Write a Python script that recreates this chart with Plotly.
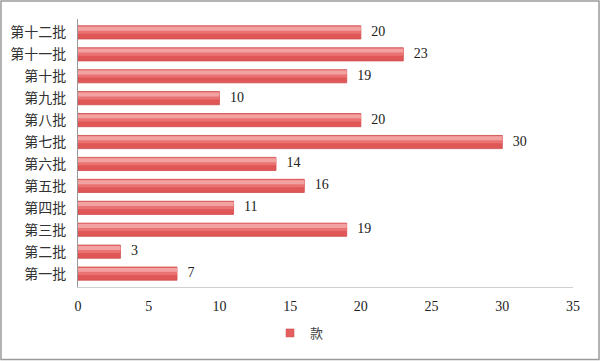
import plotly.graph_objects as go

categories = ["第一批", "第二批", "第三批", "第四批", "第五批", "第六批",
              "第七批", "第八批", "第九批", "第十批", "第十一批", "第十二批"]
values = [7, 3, 19, 11, 16, 14, 30, 20, 10, 19, 23, 20]
series_name = "款"
x_ticks = [0, 5, 10, 15, 20, 25, 30, 35]

W, H = 600, 361
ml, mr, mt, mb = 78, 27, 19, 74
pw, ph = W - ml - mr, H - mt - mb

def px_x(p):
    return (p - ml) / pw

def px_y(p):
    return (H - mb - p) / ph

num_font = "Liberation Serif, DejaVu Serif, serif"

fig = go.Figure()
# main bar
fig.add_trace(go.Bar(
    y=categories, x=values, orientation="h", name=series_name,
    width=0.6, offset=-0.3,
    marker=dict(color="#e05757", line=dict(color="#cf4a4a", width=0.8)),
    showlegend=False,
))
# gradient highlight bands (simulated gradient)
fig.add_trace(go.Bar(
    y=categories, x=values, orientation="h", width=0.34, offset=-0.06,
    marker=dict(color="#ea7272", line=dict(width=0)), showlegend=False, hoverinfo="skip",
))
fig.add_trace(go.Bar(
    y=categories, x=values, orientation="h", width=0.18, offset=0.08,
    marker=dict(color="#f3a2a2", line=dict(width=0)), showlegend=False, hoverinfo="skip",
))
# value labels
fig.add_trace(go.Scatter(
    y=categories, x=values, mode="text", text=["   " + str(v) for v in values],
    textposition="middle right",
    textfont=dict(family=num_font, size=14, color="#222222"),
    cliponaxis=False, showlegend=False, hoverinfo="skip",
))
# legend entry
fig.add_trace(go.Scatter(
    x=[None], y=[None], mode="markers", name=series_name,
    marker=dict(symbol="square", size=8, color="#e65f5f", line=dict(color="#c44848", width=0.5)),
    showlegend=True,
))

fig.update_layout(
    width=W, height=H, barmode="overlay",
    margin=dict(l=ml, r=mr, t=mt, b=mb, autoexpand=False),
    paper_bgcolor="white", plot_bgcolor="white",
    font=dict(family="Noto Sans CJK SC", size=13, color="#333333"),
    xaxis=dict(range=[0, 35], tickvals=x_ticks, showgrid=False, zeroline=False,
               showline=True, linecolor="#d0d0d0", linewidth=1, automargin=False,
               ticks="", ticklabelstandoff=6,
               tickfont=dict(family=num_font, size=14, color="#222222")),
    yaxis=dict(categoryorder="array", categoryarray=categories, automargin=False,
               showgrid=False, zeroline=False, showline=True, linecolor="#999999", linewidth=1,
               ticks="", ticklabelstandoff=8,
               tickfont=dict(family="Noto Sans CJK SC", size=14, color="#333333")),
    legend=dict(orientation="h", x=px_x(270), xanchor="left", y=px_y(333), yanchor="middle",
                font=dict(family="Noto Sans CJK SC", size=13, color="#444444"),
                itemwidth=30, bgcolor="rgba(0,0,0,0)"),
    shapes=[dict(type="rect", xref="paper", yref="paper",
                 x0=px_x(1), x1=px_x(599), y0=px_y(359.5), y1=px_y(1),
                 line=dict(color="#9a9a9a", width=1.5), fillcolor="rgba(0,0,0,0)", layer="below")],
)

fig.write_html("out.html", config={"displayModeBar": False},
               post_script="document.body.style.margin='0';document.body.style.padding='0';")
